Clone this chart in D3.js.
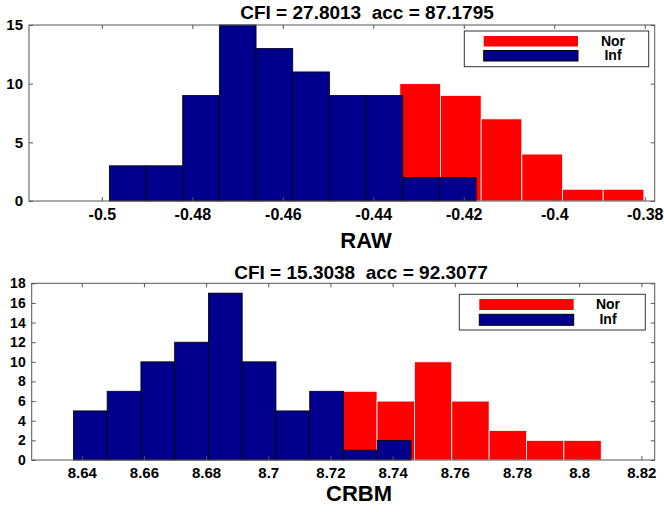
<!DOCTYPE html>
<html>
<head>
<meta charset="utf-8">
<script src="https://cdn.jsdelivr.net/npm/d3@7"></script>
<style>
  body { margin: 0; background: #fff; }
  svg { display: block; font-family: "Liberation Sans", Arial, sans-serif; font-weight: bold; }
  .title { white-space: pre; }
</style>
</head>
<body>
<svg id="chart" width="664" height="512"></svg>
<script>
// RAW panel
const rawTitle = "CFI = 27.8013  acc = 87.1795";
const rawLabel = "RAW";
const rawXTicks = [-0.5, -0.48, -0.46, -0.44, -0.42, -0.4, -0.38];
const rawYTicks = [0, 5, 10, 15];
const rawXLim = [-0.5161, -0.3778];
const rawYLim = [0, 15];
const rawNor = [10, 9, 7, 4, 1, 1];
const rawNorEdge = [-0.43414, 0.008991]; // first bin start, bin width
const rawInf = [3, 3, 9, 15, 13, 11, 9, 9, 2, 2];
const rawInfEdge = [-0.49834, 0.008107];

// CRBM panel
const crbmTitle = "CFI = 15.3038  acc = 92.3077";
const crbmLabel = "CRBM";
const crbmXTicks = [8.64, 8.66, 8.68, 8.7, 8.72, 8.74, 8.76, 8.78, 8.8, 8.82];
const crbmYTicks = [0, 2, 4, 6, 8, 10, 12, 14, 16, 18];
const crbmXLim = [8.6239, 8.8243];
const crbmYLim = [0, 18];
const crbmNor = [7, 6, 10, 6, 3, 2, 2];
const crbmNorEdge = [8.72297, 0.012018];
const crbmInf = [5, 7, 10, 12, 17, 10, 5, 7, 1, 2];
const crbmInfEdge = [8.63731, 0.010860];

const legendNames = ["Nor", "Inf"];
const colors = { Nor: "#ff0000", Inf: "#00008c" };

const svg = d3.select("#chart");
const fmt = (d) => String(+d.toFixed(2));

function drawPanel(p) {
  const x = d3.scaleLinear().domain(p.xlim).range([p.left, p.right]);
  const y = d3.scaleLinear().domain(p.ylim).range([p.bottom, p.top]);
  const g = svg.append("g");

  const toBins = (vals, edge) =>
    vals.map((v, i) => ({ x0: edge[0] + i * edge[1], x1: edge[0] + (i + 1) * edge[1], v: v }));

  // red first, blue on top
  g.append("g")
    .selectAll("rect")
    .data(toBins(p.nor, p.norEdge))
    .join("rect")
    .attr("x", (d) => x(d.x0))
    .attr("width", (d) => x(d.x1) - x(d.x0))
    .attr("y", (d) => y(d.v))
    .attr("height", (d) => y(0) - y(d.v))
    .attr("fill", colors.Nor)
    .attr("stroke", "#fff")
    .attr("stroke-width", 0.8);

  g.append("g")
    .selectAll("rect")
    .data(toBins(p.inf, p.infEdge))
    .join("rect")
    .attr("x", (d) => x(d.x0))
    .attr("width", (d) => x(d.x1) - x(d.x0))
    .attr("y", (d) => y(d.v))
    .attr("height", (d) => y(0) - y(d.v))
    .attr("fill", colors.Inf)
    .attr("stroke", "#000")
    .attr("stroke-width", 0.8);

  // frame
  g.append("rect")
    .attr("x", p.left)
    .attr("y", p.top)
    .attr("width", p.right - p.left)
    .attr("height", p.bottom - p.top)
    .attr("fill", "none")
    .attr("stroke", "#555")
    .attr("stroke-width", 1);

  const xb = g.append("g")
    .attr("transform", `translate(0,${p.bottom})`)
    .call(d3.axisBottom(x).tickValues(p.xticks).tickFormat(fmt).tickSizeInner(-4).tickSizeOuter(0));
  xb.select(".domain").remove();
  xb.selectAll("line").attr("stroke", "#555");
  xb.selectAll("text").attr("y", p.xLabelDy).attr("dy", null)
    .attr("font-size", p.xFont).attr("font-family", null).attr("fill", "#000");

  const xt = g.append("g")
    .attr("transform", `translate(0,${p.top})`)
    .call(d3.axisTop(x).tickValues(p.xticks).tickFormat("").tickSizeInner(-4).tickSizeOuter(0));
  xt.select(".domain").remove();
  xt.selectAll("line").attr("stroke", "#555");

  const yl = g.append("g")
    .attr("transform", `translate(${p.left},0)`)
    .call(d3.axisLeft(y).tickValues(p.yticks).tickSizeInner(-4).tickSizeOuter(0).tickPadding(6));
  yl.select(".domain").remove();
  yl.selectAll("line").attr("stroke", "#555");
  yl.selectAll("text").attr("font-size", p.yFont).attr("font-family", null).attr("fill", "#000");

  const yr = g.append("g")
    .attr("transform", `translate(${p.right},0)`)
    .call(d3.axisRight(y).tickValues(p.yticks).tickFormat("").tickSizeInner(-4).tickSizeOuter(0));
  yr.select(".domain").remove();
  yr.selectAll("line").attr("stroke", "#555");

  // title and x label
  g.append("text")
    .attr("class", "title")
    .attr("x", p.titleX)
    .attr("y", p.titleY)
    .attr("text-anchor", "middle")
    .attr("font-size", 19)
    .text(p.title);
  g.append("text")
    .attr("x", p.labelX)
    .attr("y", p.labelY)
    .attr("text-anchor", "middle")
    .attr("font-size", 22)
    .text(p.label);

  // legend
  const L = p.legend;
  const lg = g.append("g");
  lg.append("rect")
    .attr("x", L.x).attr("y", L.y).attr("width", L.w).attr("height", L.h)
    .attr("fill", "#fff").attr("stroke", "#333").attr("stroke-width", 1);
  legendNames.forEach((name, i) => {
    const ry = L.y + L.rowY[i];
    lg.append("rect")
      .attr("x", L.swX).attr("y", ry).attr("width", L.swW).attr("height", L.swH)
      .attr("fill", colors[name])
      .attr("stroke", name === "Inf" ? "#000" : "none");
    lg.append("text")
      .attr("x", L.textX).attr("y", ry + L.swH - 1)
      .attr("text-anchor", "middle")
      .attr("font-size", 14)
      .text(name);
  });
}

drawPanel({
  left: 29, right: 654.7, top: 25, bottom: 201,
  xlim: rawXLim, ylim: rawYLim, xticks: rawXTicks, yticks: rawYTicks,
  nor: rawNor, norEdge: rawNorEdge, inf: rawInf, infEdge: rawInfEdge,
  xFont: 16, yFont: 15, xLabelDy: 18.5,
  title: rawTitle, titleX: 367, titleY: 19,
  label: rawLabel, labelX: 366, labelY: 248,
  legend: { x: 464.3, y: 31, w: 184.4, h: 35.7, swX: 483.7, swW: 94.3, swH: 10.5, rowY: [5, 19.5], textX: 613 }
});

drawPanel({
  left: 31.7, right: 654.7, top: 283.3, bottom: 460,
  xlim: crbmXLim, ylim: crbmYLim, xticks: crbmXTicks, yticks: crbmYTicks,
  nor: crbmNor, norEdge: crbmNorEdge, inf: crbmInf, infEdge: crbmInfEdge,
  xFont: 15, yFont: 14, xLabelDy: 18,
  title: crbmTitle, titleX: 361, titleY: 279,
  label: crbmLabel, labelX: 359, labelY: 501,
  legend: { x: 459.3, y: 294.3, w: 186, h: 35.7, swX: 479.3, swW: 94.4, swH: 11, rowY: [4.7, 20], textX: 608 }
});
</script>
</body>
</html>
